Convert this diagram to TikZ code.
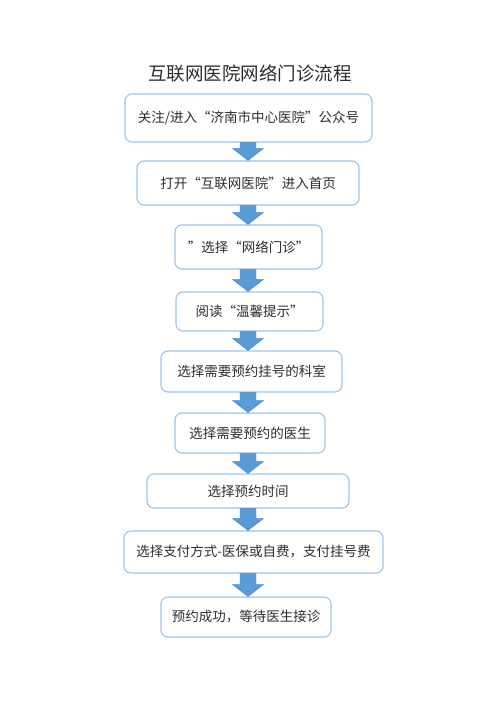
\documentclass[tikz,border=0pt]{standalone}
\usepackage{fontspec}
\setmainfont{Noto Sans CJK SC}
\usepackage{tikz}
\usetikzlibrary{calc,positioning}
\definecolor{boxline}{RGB}{157,195,230}
\definecolor{arrowfill}{RGB}{91,155,213}
\definecolor{arrowline}{RGB}{70,130,195}
\definecolor{textgray}{RGB}{45,45,45}
\tikzstyle{stepbox} = [draw=boxline,line width=1.1pt,rounded corners=7pt,inner sep=0pt,text=textgray,font=\fontsize{13.5}{15}\selectfont]
\tikzstyle{flowarrow} = [fill=arrowfill,draw=arrowline,line width=0.4pt,line join=miter]

\begin{document}
\begin{tikzpicture}[x=1pt,y=-1pt]
    \useasboundingbox (0,0) rectangle (500,707);
    \coordinate (axis) at (248,0);

    \node [text=textgray,font=\fontsize{18.5}{20}\selectfont] (title) at (250,73) {互联网医院网络门诊流程};

    \node [stepbox,minimum width=247pt,minimum height=48pt] (b1) at (248.5,118) {关注/进入“济南市中心医院”公众号};
    \node [stepbox,minimum width=222pt,minimum height=44pt] (b2) at (248,183) {打开“互联网医院”进入首页};
    \node [stepbox,minimum width=147pt,minimum height=44pt] (b3) at (248.5,247) {”选择“网络门诊”};
    \node [stepbox,minimum width=147pt,minimum height=39pt] (b4) at (249.5,311.5) {阅读“温馨提示”};
    \node [stepbox,minimum width=181pt,minimum height=41pt] (b5) at (251.5,371.5) {选择需要预约挂号的科室};
    \node [stepbox,minimum width=150pt,minimum height=40pt] (b6) at (250,433) {选择需要预约的医生};
    \node [stepbox,minimum width=202pt,minimum height=34pt] (b7) at (248,491) {选择预约时间};
    \node [stepbox,minimum width=259pt,minimum height=42pt] (b8) at (253.5,552) {选择支付方式-医保或自费，支付挂号费};
    \node [stepbox,minimum width=170pt,minimum height=40pt] (b9) at (246,617) {预约成功，等待医生接诊};

    \foreach \a/\b in {b1/b2,b2/b3,b3/b4,b4/b5,b5/b6,b6/b7,b7/b8,b8/b9}
      \draw [flowarrow] ($(\a.south -| axis)+(-8,0)$) -- ($(\a.south -| axis)+(8,0)$)
        -- ($(\b.north -| axis)+(8,-12)$) -- ($(\b.north -| axis)+(15.5,-12)$)
        -- (\b.north -| axis) -- ($(\b.north -| axis)+(-15.5,-12)$)
        -- ($(\b.north -| axis)+(-8,-12)$) -- cycle;
  \end{tikzpicture}
\end{document}
